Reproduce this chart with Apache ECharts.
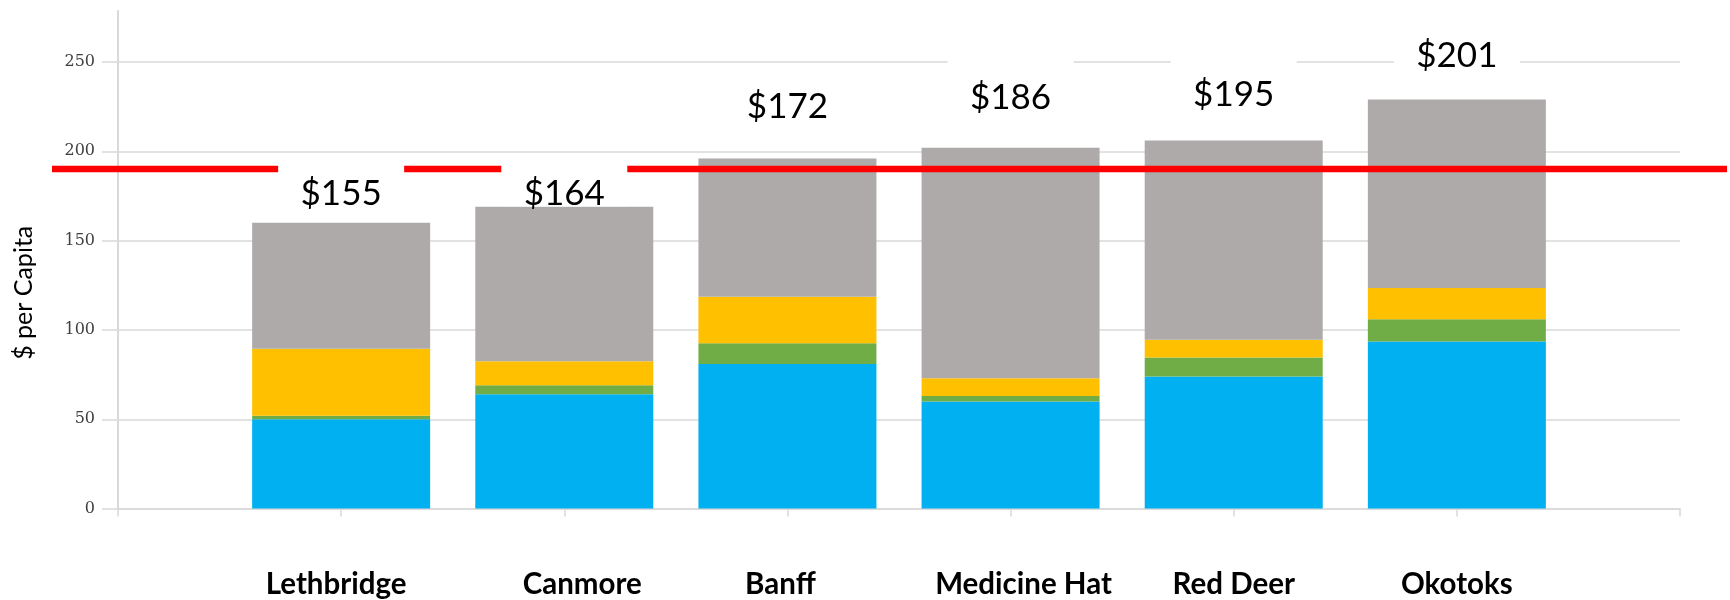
<!DOCTYPE html>
<html>
<head>
<meta charset="utf-8">
<script src="https://cdn.jsdelivr.net/npm/echarts@6/dist/echarts.min.js"></script>
<style>
html,body{margin:0;padding:0;background:#fff;}
#chart{width:1730px;height:600px;}
</style>
</head>
<body>
<div id="chart"></div>
<script>
// ---- data ----
const categories = ['Lethbridge', 'Canmore', 'Banff', 'Medicine Hat', 'Red Deer', 'Okotoks'];
const blueValues   = [50, 64, 81, 60, 74, 93.5];
const greenValues  = [2, 5, 11.5, 3, 10.5, 12.5];
const yellowValues = [37.5, 13.5, 26, 10, 10, 17.5];
const grayValues   = [70.5, 86.5, 77.5, 129, 111.5, 105.5];
const amountLabels = ['$155', '$164', '$172', '$186', '$195', '$201'];
const amountLabelHeights = [176.5, 176.5, 224.7, 230, 231.5, 253.5];
const referenceValue = 190;
const yTicks = [0, 50, 100, 150, 200, 250];
const yMax = 278.5;
const yTitle = '$ per Capita';

// ---- build options ----
const pad = a => ['-'].concat(a, ['-']);
const xCats = [''].concat(categories, ['']);
const gridLine = '#d9d9d9';
const barW = 178;
const labelPoints = amountLabelHeights.map((h, i) => [i + 1, h]);

function barSeries(name, data, color) {
  return {
    name: name, type: 'bar', stack: 'total', data: pad(data),
    xAxisIndex: 0, yAxisIndex: 0, barWidth: barW, z: 2,
    itemStyle: { color: color },
    emphasis: { disabled: true }
  };
}

const xLabelRich = {
  c1: { padding: [0, 10, 0, 0] },
  c2: { padding: [0, 0, 0, 36] },
  c3: { padding: [0, 14, 0, 0] },
  c4: { padding: [0, 0, 0, 26] },
  c5: { padding: [0, 0, 0, 0] },
  c6: { padding: [0, 0, 0, 0] }
};

const option = {
  animation: false,
  backgroundColor: '#ffffff',
  grid: [
    { left: 118, right: 50, top: 11, bottom: 91.4, containLabel: false },
    { left: 52, right: 3, top: 11, bottom: 91.4, containLabel: false }
  ],
  xAxis: [
    {
      type: 'category', gridIndex: 0, data: xCats, boundaryGap: false,
      axisLine: { show: true, lineStyle: { color: gridLine, width: 1.5 } },
      axisTick: { show: true, length: 8, interval: 0, lineStyle: { color: gridLine, width: 1.5 } },
      splitLine: { show: false },
      axisLabel: {
        interval: 0, margin: 62, color: '#000',
        fontFamily: 'Lato', fontWeight: 'bold', fontSize: 29.5, lineHeight: 28,
        formatter: (v, i) => v ? '{c' + i + '|' + v + '}' : '',
        rich: xLabelRich
      }
    },
    { type: 'value', gridIndex: 1, min: 0, max: 1, show: false }
  ],
  yAxis: [
    {
      type: 'value', gridIndex: 0, min: 0, max: yMax, interval: 50,
      name: yTitle, nameLocation: 'middle', nameGap: 82, nameRotate: 90,
      nameTextStyle: { fontFamily: 'Lato', fontSize: 25, color: '#000', padding: [0, 66, 0, 0] },
      axisLine: { show: true, lineStyle: { color: gridLine, width: 2 } },
      axisTick: { show: true, inside: false, length: 16, customValues: yTicks, lineStyle: { color: gridLine, width: 1.5 } },
      splitLine: { show: true, lineStyle: { color: gridLine, width: 1.5 } },
      axisLabel: {
        customValues: yTicks, margin: 23, color: '#404040',
        fontFamily: 'DejaVu Serif', fontSize: 16
      }
    },
    { type: 'value', gridIndex: 1, min: 0, max: yMax, show: false }
  ],
  series: [
    barSeries('Blue', blueValues, '#00B0F0'),
    barSeries('Green', greenValues, '#70AD47'),
    barSeries('Yellow', yellowValues, '#FFC000'),
    barSeries('Gray', grayValues, '#AEAAAA'),
    {
      name: 'Reference', type: 'line', xAxisIndex: 1, yAxisIndex: 1, z: 3,
      data: [[0, referenceValue], [1, referenceValue]],
      symbol: 'none', lineStyle: { color: '#FF0000', width: 6.5 },
      emphasis: { disabled: true }
    },
    {
      // white text boxes behind the amount labels
      name: 'AmountBoxes', type: 'scatter', xAxisIndex: 0, yAxisIndex: 0, z: 5,
      data: labelPoints,
      symbolSize: 1, itemStyle: { color: 'rgba(0,0,0,0)', opacity: 1 },
      emphasis: { disabled: true }, silent: true,
      label: {
        show: true, position: 'inside', offset: [0, -12],
        formatter: () => ' ',
        width: 126, height: 50, backgroundColor: '#ffffff'
      }
    },
    {
      name: 'Amounts', type: 'scatter', xAxisIndex: 0, yAxisIndex: 0, z: 6,
      data: labelPoints,
      symbolSize: 1, itemStyle: { color: 'rgba(0,0,0,0)', opacity: 1 },
      emphasis: { disabled: true }, silent: true,
      label: {
        show: true, position: 'inside',
        formatter: p => amountLabels[p.dataIndex],
        fontFamily: 'Lato', fontSize: 35, lineHeight: 35, color: '#000'
      }
    }
  ]
};

const chart = echarts.init(document.getElementById('chart'), null, { renderer: 'canvas' });
chart.setOption(option);
</script>
</body>
</html>
